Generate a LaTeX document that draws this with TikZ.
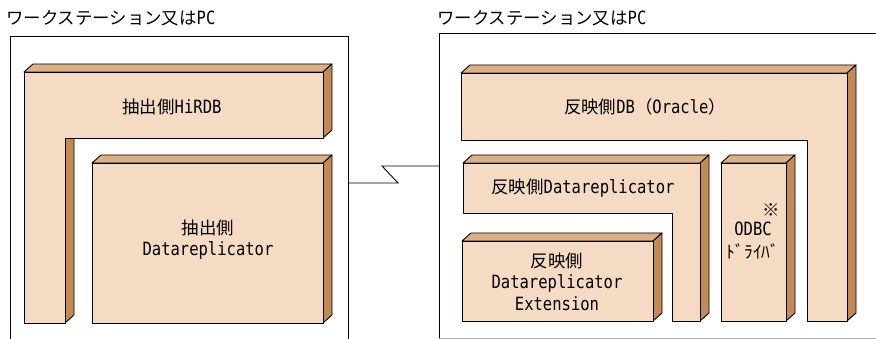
\documentclass[tikz,border=0pt]{standalone}
\usepackage{fontspec}
\setmainfont{DejaVu Sans Mono}[FakeStretch=0.85,Scale=1.05]
\newfontfamily\jp{Noto Sans CJK JP}
\definecolor{frontc}{HTML}{F5DBC4}
\definecolor{topc}{HTML}{DCAF86}
\definecolor{sidec}{HTML}{C38A54}
\tikzset{
  face/.style={draw=black,line width=0.9pt,line join=round},
  ffront/.style={face,fill=frontc},
  ftop/.style={face,fill=topc},
  fside/.style={face,fill=sidec},
  frame/.style={draw=black,line width=0.9pt},
  lbl/.style={inner sep=0pt,font=\fontsize{17.4}{21.5}\selectfont,align=center},
}
% rectangular block: front x1,y1 (top-left) x2,y2 (bottom-right)
\newcommand{\drawblock}[4]{%
  \path[ftop] (#1,#2) -- ++(9,-8) -- (#3+9,#2-8) -- (#3,#2) -- cycle;
  \path[fside] (#3,#2) -- ++(9,-8) -- (#3+9,#4-8) -- (#3,#4) -- cycle;
  \path[ffront] (#1,#2) rectangle (#3,#4);
}
\begin{document}
\begin{tikzpicture}[x=1pt,y=-1pt]
\useasboundingbox (0,0) rectangle (876,339);
\clip (0,0) rectangle (876,339);
% outer frames
\draw[frame] (10,350) -- (10,36) -- (348,36) -- (348,350);
\draw[frame] (900,33) -- (439,33) -- (439,338);
\draw[draw=black!30,line width=0.9pt] (439,338) -- (900,338);
\node[lbl,anchor=west] (t1) at (6,18) {\jp ワークステーション又は\rmfamily PC};
\node[lbl,anchor=west] (t2) at (437,18) {\jp ワークステーション又は\rmfamily PC};
% connector
\coordinate (cl) at (348,183);
\coordinate (cr) at (439,166);
\draw[frame,line join=miter] (cl) -- (398,183) -- (382,166) -- (cr);
% left HiRDB L-shape
\path[ftop] (24,72) -- (33,64) -- (332,64) -- (323,72) -- cycle;
\path[fside] (323,72) -- (332,64) -- (332,130) -- (323,138) -- cycle;
\path[fside] (65,138) -- (74,130) -- (74,315) -- (65,323) -- cycle;
\path[ffront] (24,72) -- (323,72) -- (323,138) -- (65,138) -- (65,323) -- (24,323) -- cycle;
\node[lbl] (hirdb) at (172,107) {{\jp 抽出側}HiRDB};
% left Datareplicator
\drawblock{92}{163}{323}{323}
\node[lbl] (ldr) at (208,239.5) {{\jp 抽出側}\\Datareplicator};
% right Oracle inverted L
\path[ftop] (461,73) -- (470,65) -- (856,65) -- (847,73) -- cycle;
\path[fside] (847,73) -- (856,65) -- (856,313) -- (847,321) -- cycle;
\path[ffront] (461,73) -- (847,73) -- (847,321) -- (807,321) -- (807,140) -- (461,140) -- cycle;
\node[lbl] (ora) at (645,107) {{\jp 反映側}DB{\jp （}Oracle{\jp ）}};
% right Datareplicator L
\path[ftop] (463,163) -- (472,155) -- (709,155) -- (700,163) -- cycle;
\path[fside] (700,163) -- (709,155) -- (709,313) -- (700,321) -- cycle;
\path[ffront] (463,163) -- (700,163) -- (700,321) -- (672,321) -- (672,213) -- (463,213) -- cycle;
\node[lbl] (rdr) at (583,188) {{\jp 反映側}Datareplicator};
% Extension
\drawblock{462}{241}{653}{321}
\node[lbl] (ext) at (557,281.5) {{\jp 反映側}\\Datareplicator\\Extension};
% ODBC
\drawblock{721}{163}{786}{321}
\node[lbl] (mark) at (771,210) {\jp ※};
\node[lbl] (odbc) at (753,229) {ODBC};
\node[lbl] (drv) at (753,251) {\jp ﾄﾞﾗｲﾊﾞ};
\end{tikzpicture}
\end{document}
